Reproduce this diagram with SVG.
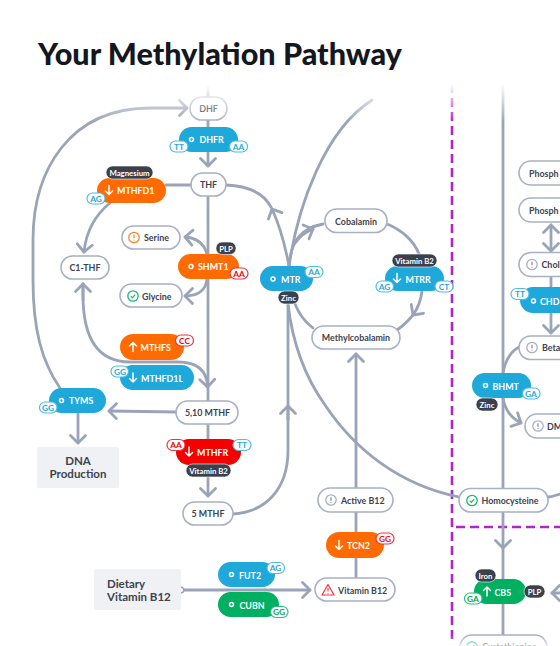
<svg xmlns="http://www.w3.org/2000/svg" width="560" height="646" viewBox="0 0 560 646">
<style>
text{font-family:"Lato","Liberation Sans",sans-serif;font-weight:700;text-anchor:middle}
.title{font-size:30.6px;font-weight:900;fill:#14171f;text-anchor:start}
.l{fill:none;stroke:#9aa3b8;stroke-width:2.8;stroke-linecap:round}
.d{fill:none;stroke:#b026c4;stroke-width:2.6;stroke-dasharray:9 5}
.p{fill:#fff;stroke:#a9b0c6;stroke-width:1.6}
.pt{font-size:8.9px;fill:#3d434f}
.pts{font-size:8.9px;fill:#3d434f;text-anchor:start}
.e{font-size:8.9px;fill:#fff}
.es{font-size:8.9px;fill:#fff;text-anchor:start}
.blue{fill:#1fa9db}.orange{fill:#ff6b00}.red{fill:#f40000}.green{fill:#00b060}
.dk{fill:#3a414d;stroke:#fff;stroke-width:.6}
.dt{font-size:7.8px;fill:#fff}
.b{fill:#fff;stroke-width:1.2}
.bt{font-size:8.4px}
.bb{stroke:#4dbde6}.btb{fill:#1fa9db}
.br{stroke:#f4303a}.btr{fill:#f40000}
.bg{stroke:#2cbb7c}.btg{fill:#00a85a}
.w{fill:none;stroke:#fff;stroke-width:1.5;stroke-linecap:round;stroke-linejoin:round}
.o{fill:none;stroke:#fff;stroke-width:1.5}
.box{fill:#f0f1f5}
.bx{font-size:11.5px;fill:#3d434f}
</style>
<defs>
<marker id="a" markerUnits="userSpaceOnUse" markerWidth="22" markerHeight="22" refX="11" refY="11" orient="auto" overflow="visible"><path d="M3.5 3.5L11 11L3.5 18.5" fill="none" stroke="#9aa3b8" stroke-width="2.8" stroke-linecap="round" stroke-linejoin="round"/></marker>
<marker id="s" markerUnits="userSpaceOnUse" markerWidth="22" markerHeight="22" refX="11" refY="11" orient="auto-start-reverse" overflow="visible"><path d="M3.5 3.5L11 11L3.5 18.5" fill="none" stroke="#9aa3b8" stroke-width="2.8" stroke-linecap="round" stroke-linejoin="round"/></marker>
<linearGradient id="ft" x1="0" y1="0" x2="0" y2="1"><stop offset="0" stop-color="#fff"/><stop offset=".1" stop-color="#fff"/><stop offset="1" stop-color="#fff" stop-opacity="0"/></linearGradient>
<linearGradient id="fb" x1="0" y1="1" x2="0" y2="0"><stop offset="0" stop-color="#fff" stop-opacity=".7"/><stop offset="1" stop-color="#fff" stop-opacity="0"/></linearGradient>
<path id="up" d="M0 -4.500V4.500M-3.500 -1L0 -4.500L3.500 -1" class="w"/>
<path id="dn" d="M0 -4.500V4.500M-3.500 1L0 4.500L3.500 1" class="w"/>
<g id="chk"><circle r="5.200" fill="#fff" stroke="#1fb57a" stroke-width="1.300"/><path d="M-2.200 .2L-.6 1.800L2.200 -1.400" fill="none" stroke="#1fb57a" stroke-width="1.200"/></g>
<g id="ex"><circle r="5.200" fill="#fff" stroke="#f58a2c" stroke-width="1.300"/><path d="M0 -2.800V.8M0 2.200V3" fill="none" stroke="#f58a2c" stroke-width="1.300"/></g>
<g id="gi"><circle r="5.200" fill="#fff" stroke="#a9b0c6" stroke-width="1.300"/><path d="M0 -2.800V.8M0 2.200V3" fill="none" stroke="#a9b0c6" stroke-width="1.800"/></g>
</defs>
<rect width="560" height="646" fill="#fff"/>
<text class="title" x="38" y="65">Your Methylation Pathway</text>

<g id="connectors">
<path class="d" d="M452 84V640"/>
<path class="d" d="M456 527H560"/>
<path class="l" d="M503 84V373M503 398V488"/>
<path class="l" d="M208 84V97M208 120V166" marker-end="url(#a)"/>
<path class="l" d="M208 196V401"/>
<path class="l" d="M208 424V496" marker-end="url(#a)"/>
<path class="l" d="M166 185H191"/>
<path class="l" d="M60 388C42 362 33 330 33 280V240C33 170 70 108 150 108H187" marker-end="url(#a)"/>
<path class="l" d="M110 203C94 216 86 232 84 252" marker-end="url(#a)"/>
<path class="l" d="M83 300V284" marker-end="url(#a)"/>
<path class="l" d="M83 284V295C83 335 95 362 130 362H178C197 362 207 370 207.500 387" marker-end="url(#a)"/>
<path class="l" d="M207 254C204 243 197 238 185 237" marker-end="url(#a)"/>
<path class="l" d="M207 279C206 290 198 296 185 296" marker-end="url(#a)"/>
<path class="l" d="M176 412L109 411" marker-end="url(#a)"/>
<path class="l" d="M78 413V443" marker-end="url(#a)"/>
<path class="l" d="M226 185C250 186 264 194 271 207"/>
<path class="l" d="M289 266C285 245 280 226 272 209" marker-end="url(#a)"/>
<path class="l" d="M289 266C291 240 302 228 323 224"/>
<path class="l" d="M296 242C300 236 306 232 313 229" marker-end="url(#a)"/>
<path class="l" d="M289 266C298 205 325 130 372 100"/>
<path class="l" d="M288 304C291 330 300 370 325 405C355 450 400 485 459 497"/>
<path class="l" d="M233 514C265 512 288 490 288 450V304"/>
<path class="l" d="M288 420V406" marker-end="url(#a)"/>
<path class="l" d="M387 224C402 230 414 241 419 254"/>
<path class="l" d="M422 291C421 300 418 308 413 315" marker-end="url(#a)"/>
<path class="l" d="M413 315C408 321 403 326 397 330"/>
<path class="l" d="M313 328C305 322 299 314 295 304"/>
<path class="l" d="M356 578V512M356 488V354" marker-end="url(#a)"/>
<path class="l" d="M181 590H310" marker-end="url(#a)"/>
<path class="l" d="M548 497C552 497 556 495 560 494"/>
<path class="l" d="M503 512V548" marker-end="url(#a)"/>
<path class="l" d="M503 548V635"/>
<path class="l" d="M551 277V287M551 313V333" marker-end="url(#a)"/>
<path class="l" d="M551 225V251" marker-start="url(#s)" marker-end="url(#a)"/>
<path class="l" d="M519 347C510 352 505 362 503 373"/>
<path class="l" d="M503 398C505 410 511 418 521 423" marker-end="url(#a)"/>
<path class="l" d="M560 593H552" marker-end="url(#a)"/>
<circle cx="181" cy="590" r="2.800" fill="#fff" stroke="#9aa3b8" stroke-width="1.400"/>
</g>

<g id="dhf"><rect class="p" x="190" y="97" width="37" height="23" rx="11.500"/><text class="pt" x="208.500" y="112">DHF</text></g>
<g id="dhfr"><rect class="blue" x="179" y="127" width="59" height="25" rx="12.500"/><circle class="o" cx="191.500" cy="139.500" r="2"/><text class="es" x="199.500" y="143">DHFR</text><rect class="b bb" x="170" y="141" width="18" height="11" rx="5.500"/><text class="bt btb" x="179" y="149.500">TT</text><rect class="b bb" x="229.500" y="141" width="18" height="11" rx="5.500"/><text class="bt btb" x="238.500" y="149.500">AA</text></g>
<g id="thf"><rect class="p" x="191" y="173" width="35" height="23" rx="11.500"/><text class="pt" x="208.500" y="188">THF</text></g>
<g id="mthfd1"><rect class="orange" x="97" y="178" width="69" height="25" rx="12.500"/><use href="#dn" x="109" y="190"/><text class="es" x="117" y="194">MTHFD1</text><rect class="dk" x="106" y="166" width="47" height="13" rx="6.500"/><text class="dt" x="129.500" y="175.500">Magnesium</text><rect class="b bb" x="87" y="193" width="18" height="11" rx="5.500"/><text class="bt btb" x="96" y="201.500">AG</text></g>
<g id="c1thf"><rect class="p" x="61" y="256" width="48" height="23" rx="11.500"/><text class="pt" x="85" y="271">C1-THF</text></g>
<g id="serine"><rect class="p" x="122" y="226" width="58" height="23" rx="11.500"/><use href="#ex" x="134" y="237.500"/><text class="pts" x="144" y="241">Serine</text></g>
<g id="shmt1"><rect class="orange" x="178" y="254" width="61" height="25" rx="12.500"/><circle class="o" cx="191" cy="266.500" r="2"/><text class="es" x="198" y="270">SHMT1</text><rect class="dk" x="216" y="242" width="20" height="12.500" rx="6"/><text class="dt" x="226" y="251.500">PLP</text><rect class="b br" x="230" y="268" width="18" height="11" rx="5.500"/><text class="bt btr" x="239" y="276.500">AA</text></g>
<g id="glycine"><rect class="p" x="120" y="284" width="62" height="23" rx="11.500"/><use href="#chk" x="133" y="296"/><text class="pts" x="142" y="299.500">Glycine</text></g>
<g id="mthfs"><rect class="orange" x="120" y="334" width="64" height="26" rx="13"/><use href="#up" x="133" y="347"/><text class="es" x="140.500" y="351">MTHFS</text><rect class="b br" x="175.500" y="335" width="18" height="11" rx="5.500"/><text class="bt btr" x="184.500" y="343.500">CC</text></g>
<g id="mthfd1l"><rect class="blue" x="120" y="365" width="74" height="25" rx="12.500"/><use href="#dn" x="133" y="377.500"/><text class="es" x="141" y="381.500">MTHFD1L</text><rect class="b bb" x="111" y="366" width="17.500" height="11" rx="5.500"/><text class="bt btb" x="120" y="374.500">GG</text></g>
<g id="tyms"><rect class="blue" x="49" y="388" width="57" height="25" rx="12.500"/><circle class="o" cx="61.500" cy="400.500" r="2"/><text class="es" x="69" y="404">TYMS</text><rect class="b bb" x="39.500" y="402" width="17.500" height="11" rx="5.500"/><text class="bt btb" x="48" y="410.500">GG</text></g>
<g id="dna"><rect class="box" x="37" y="447" width="82" height="41" rx="2"/><text class="bx" x="78" y="465">DNA</text><text class="bx" x="78" y="478">Production</text></g>
<g id="mthf510"><rect class="p" x="176" y="401" width="62" height="23" rx="11.500"/><text class="pt" x="207.500" y="416">5,10 MTHF</text></g>
<g id="mthfr"><rect class="red" x="176" y="439" width="65" height="26" rx="13"/><use href="#dn" x="189" y="451.500"/><text class="es" x="197" y="455.500">MTHFR</text><rect class="dk" x="186" y="464" width="45" height="13" rx="6.500"/><text class="dt" x="208.500" y="473.500">Vitamin B2</text><rect class="b br" x="167" y="439.500" width="18" height="11" rx="5.500"/><text class="bt btr" x="176" y="448">AA</text><rect class="b bb" x="233" y="439.500" width="18" height="11" rx="5.500"/><text class="bt btb" x="242" y="448">TT</text></g>
<g id="mthf5"><rect class="p" x="183" y="502" width="50" height="23" rx="11.500"/><text class="pt" x="208" y="517">5 MTHF</text></g>
<g id="mtr"><rect class="blue" x="260" y="266" width="53" height="25" rx="12.500"/><circle class="o" cx="273" cy="279" r="2"/><text class="es" x="281" y="282.500">MTR</text><rect class="b bb" x="305" y="266.500" width="18" height="11" rx="5.500"/><text class="bt btb" x="314" y="275">AA</text><rect class="dk" x="278" y="291" width="21" height="13" rx="6.500"/><text class="dt" x="288.500" y="300.500">Zinc</text></g>
<g id="cobalamin"><rect class="p" x="325" y="209" width="62" height="23.500" rx="11.500"/><text class="pt" x="356" y="224.500">Cobalamin</text></g>
<g id="mtrr"><rect class="blue" x="385" y="266" width="59" height="25" rx="12.500"/><use href="#dn" x="397" y="278"/><text class="es" x="405.500" y="282.500">MTRR</text><rect class="dk" x="392" y="254" width="45" height="13" rx="6.500"/><text class="dt" x="414.500" y="263.500">Vitamin B2</text><rect class="b bb" x="376" y="281" width="17.500" height="11" rx="5.500"/><text class="bt btb" x="384.500" y="289.500">AG</text><rect class="b bb" x="435" y="281" width="18" height="11" rx="5.500"/><text class="bt btb" x="444" y="289.500">CT</text></g>
<g id="methylcobalamin"><rect class="p" x="312" y="326" width="88" height="23" rx="11.500"/><text class="pt" x="356" y="341">Methylcobalamin</text></g>
<g id="activeb12"><rect class="p" x="318" y="488" width="75" height="24" rx="12"/><use href="#gi" x="331" y="500"/><text class="pts" x="341" y="503.500">Active B12</text></g>
<g id="tcn2"><rect class="orange" x="326" y="532" width="58" height="26" rx="13"/><use href="#dn" x="339" y="545"/><text class="es" x="347" y="549">TCN2</text><rect class="b br" x="376" y="533" width="18" height="11" rx="5.500"/><text class="bt btr" x="385" y="541.500">GG</text></g>
<g id="vitaminb12"><rect class="p" x="315" y="578" width="80" height="23" rx="11.500"/><path d="M328 584.500L334 595H322Z" fill="#fff" stroke="#f4303a" stroke-width="1.200" stroke-linejoin="round"/><path d="M328 588V591.500M328 592.800V593.500" stroke="#f4303a" stroke-width="1.100" fill="none"/><text class="pts" x="338" y="593.500">Vitamin B12</text></g>
<g id="fut2"><rect class="blue" x="218" y="562" width="57" height="25" rx="12.500"/><circle class="o" cx="231.500" cy="574.500" r="2"/><text class="es" x="239" y="578.500">FUT2</text><rect class="b bb" x="267" y="562.500" width="17.500" height="11" rx="5.500"/><text class="bt btb" x="275.500" y="571">AG</text></g>
<g id="cubn"><rect class="green" x="218" y="592" width="61" height="25" rx="12.500"/><circle class="o" cx="231.500" cy="604.500" r="2"/><text class="es" x="239.500" y="608.500">CUBN</text><rect class="b bg" x="270.500" y="606.500" width="17.500" height="11" rx="5.500"/><text class="bt btg" x="279" y="615">GG</text></g>
<g id="dietary"><rect class="box" x="94" y="569" width="87" height="41" rx="2"/><text class="bx" x="107" y="588" style="text-anchor:start">Dietary</text><text class="bx" x="107" y="601" style="text-anchor:start">Vitamin B12</text></g>
<g id="phosph1"><rect class="p" x="519" y="161" width="80" height="24" rx="12"/><text class="pts" x="529" y="176.500">Phosph</text></g>
<g id="phosph2"><rect class="p" x="519" y="198" width="80" height="24" rx="12"/><text class="pts" x="529" y="213.500">Phosph</text></g>
<g id="chol"><rect class="p" x="519" y="252.500" width="80" height="24" rx="12"/><use href="#gi" x="532" y="264.500"/><text class="pts" x="541.500" y="268">Chol</text></g>
<g id="chdh"><rect class="blue" x="520" y="287" width="70" height="26" rx="13"/><circle class="o" cx="533.500" cy="301" r="2"/><text class="es" x="540" y="305">CHD</text><rect class="b bb" x="511" y="288.500" width="18" height="11" rx="5.500"/><text class="bt btb" x="520" y="297">TT</text></g>
<g id="beta"><rect class="p" x="519" y="336" width="80" height="23.500" rx="11.500"/><use href="#gi" x="532" y="347.500"/><text class="pts" x="542" y="351">Beta</text></g>
<g id="bhmt"><rect class="blue" x="472" y="373" width="59" height="25" rx="12.500"/><circle class="o" cx="485.500" cy="385.500" r="2"/><text class="es" x="492.500" y="389.500">BHMT</text><rect class="b bb" x="522.500" y="388" width="17.500" height="11" rx="5.500"/><text class="bt btb" x="531" y="396.500">GA</text><rect class="dk" x="476" y="398" width="22" height="13" rx="6.500"/><text class="dt" x="487" y="407.500">Zinc</text></g>
<g id="dm"><rect class="p" x="525" y="414" width="70" height="24" rx="12"/><use href="#gi" x="538" y="426"/><text class="pts" x="547" y="429.500">DM</text></g>
<g id="homocysteine"><rect class="p" x="459" y="488.500" width="89" height="23.500" rx="11.500"/><use href="#chk" x="472" y="500.500"/><text class="pts" x="481.500" y="504">Homocysteine</text></g>
<g id="cbs"><rect class="green" x="474" y="579" width="52" height="25" rx="12.500"/><use href="#up" x="487" y="591.500"/><text class="es" x="494.500" y="595.500">CBS</text><rect class="dk" x="475" y="569" width="21" height="13" rx="6.500"/><text class="dt" x="485.500" y="578.500">Iron</text><rect class="dk" x="524" y="585" width="21" height="13" rx="6.500"/><text class="dt" x="534.500" y="594.500">PLP</text><rect class="b bg" x="464.500" y="593" width="17.500" height="11" rx="5.500"/><text class="bt btg" x="473" y="601.500">GA</text></g>
<g id="cystathionine"><rect class="p" x="460" y="635" width="87" height="24" rx="12"/><use href="#chk" x="472" y="647"/><text class="pts" x="482" y="650">Cystathionine</text></g>

<rect x="0" y="80" width="560" height="42" fill="url(#ft)"/>
<rect x="0" y="636" width="560" height="10" fill="url(#fb)"/>
</svg>
